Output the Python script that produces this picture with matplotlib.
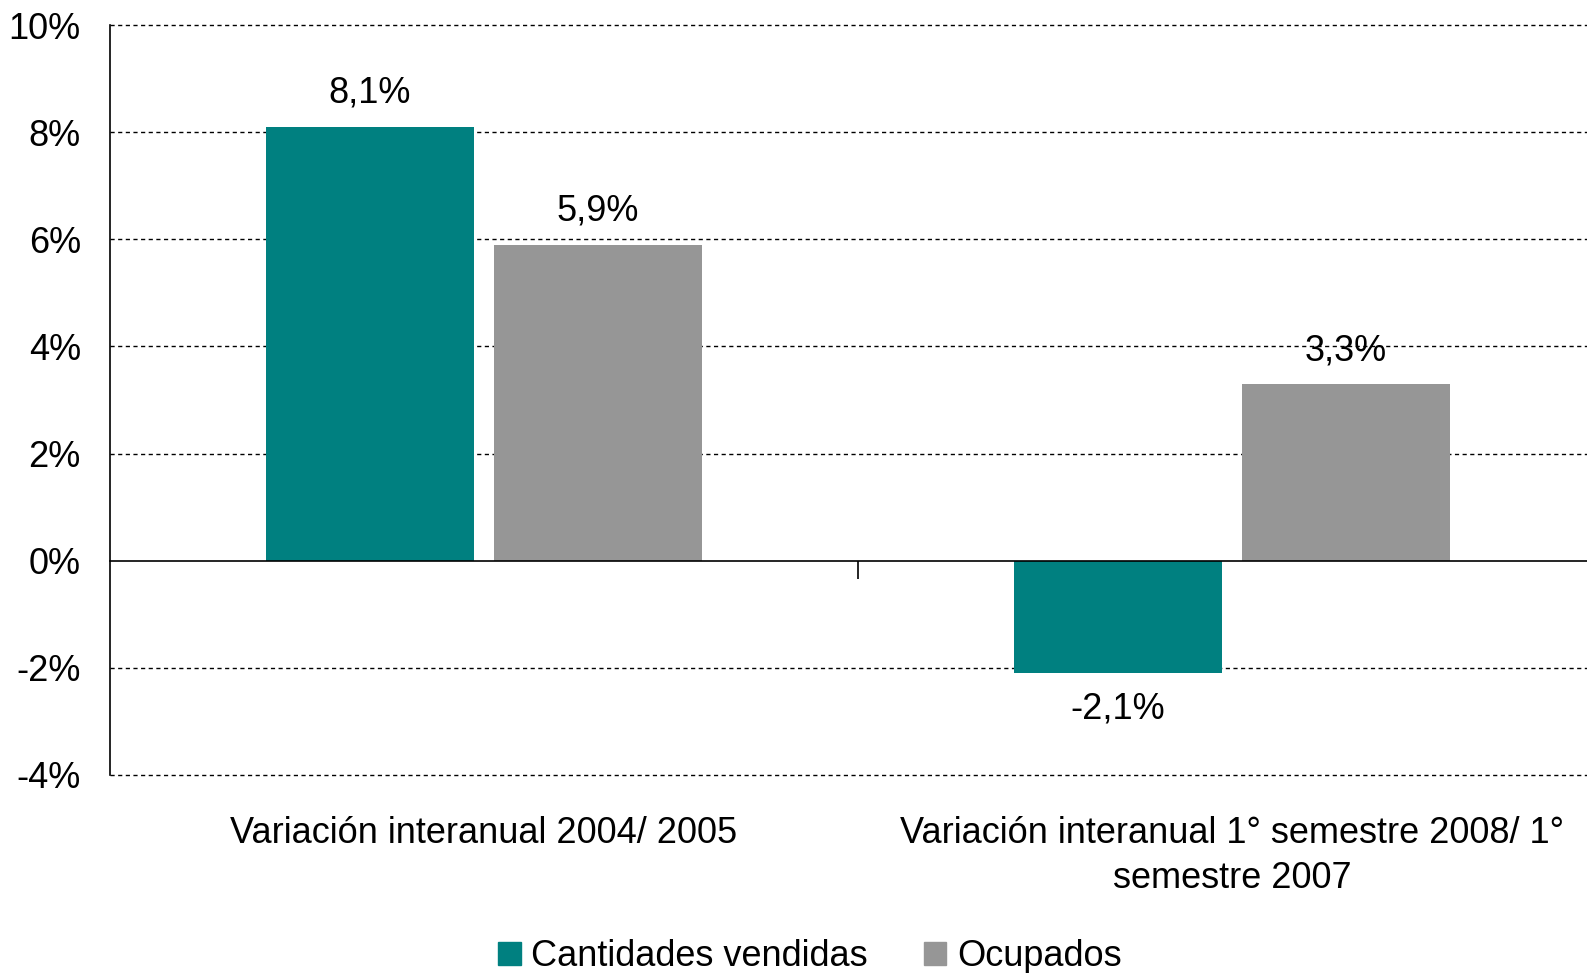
import matplotlib
matplotlib.use("Agg")
import matplotlib.pyplot as plt
import matplotlib.transforms as mtransforms
from matplotlib.patches import Patch

categories = ["Variación interanual 2004/ 2005",
              "Variación interanual 1° semestre 2008/ 1°\nsemestre 2007"]
series_names = ["Cantidades vendidas", "Ocupados"]
cantidades = [8.1, -2.1]
ocupados = [5.9, 3.3]
yticks = [-4, -2, 0, 2, 4, 6, 8, 10]
colors = ["#008080", "#969696"]

plt.rcParams['font.family'] = ['Liberation Sans', 'DejaVu Sans']
FS = 26

W, H = 1587, 973
fig = plt.figure(figsize=(W / 100, H / 100), dpi=100)
ax = fig.add_axes([110 / W, 1 - 775 / H, (1606 - 110) / W, (775 - 25) / H])

bw = 0.278
gap = 0.027
offs = [-(bw + gap) / 2, (bw + gap) / 2]
for vals, off, col in zip([cantidades, ocupados], offs, colors):
    xs = [i + off for i in range(len(categories))]
    ax.bar(xs, vals, width=bw, color=col, zorder=3)
    for x, v in zip(xs, vals):
        lab = f"{v:.1f}%".replace(".", ",")
        dy = 24 if v >= 0 else -25.5
        ax.annotate(lab, (x, v), xytext=(0, dy), textcoords="offset points",
                    ha="center", va="center", fontsize=FS, zorder=5)

ax.set_xlim(-0.5, 1.5)
ax.set_ylim(-4, 10)
ax.set_yticks(yticks)
ax.set_yticklabels([f"{t}%" for t in yticks], fontsize=FS)
ax.tick_params(axis='y', length=0, pad=21)
for t in yticks:
    if t != 0:
        ax.axhline(t, color="black", lw=1.0, ls=(0, (3, 2.5)), zorder=1, clip_on=False)

for s in ["top", "right"]:
    ax.spines[s].set_visible(False)
ax.spines["left"].set_linewidth(1.2)
ax.spines["bottom"].set_position(("data", 0))
ax.spines["bottom"].set_linewidth(1.2)
ax.spines["bottom"].set_zorder(4)
ax.set_xticks([0.5])
ax.set_xticklabels([""])
ax.tick_params(axis='x', length=13, width=1.2, direction='out')

trans = mtransforms.blended_transform_factory(ax.transData, fig.transFigure)
for i, c in enumerate(categories):
    ax.text(i, 1 - 816 / H, c, transform=trans, ha="center", va="top",
            fontsize=FS, linespacing=1.37)

handles = [Patch(color=c) for c in colors]
fig.legend(handles, series_names, loc="center", bbox_to_anchor=(810 / W, 1 - 957 / H),
           ncol=2, frameon=False, fontsize=FS, handlelength=0.62, handleheight=0.62,
           handletextpad=0.3, columnspacing=1.55)

fig.savefig("out.png", dpi=100)
